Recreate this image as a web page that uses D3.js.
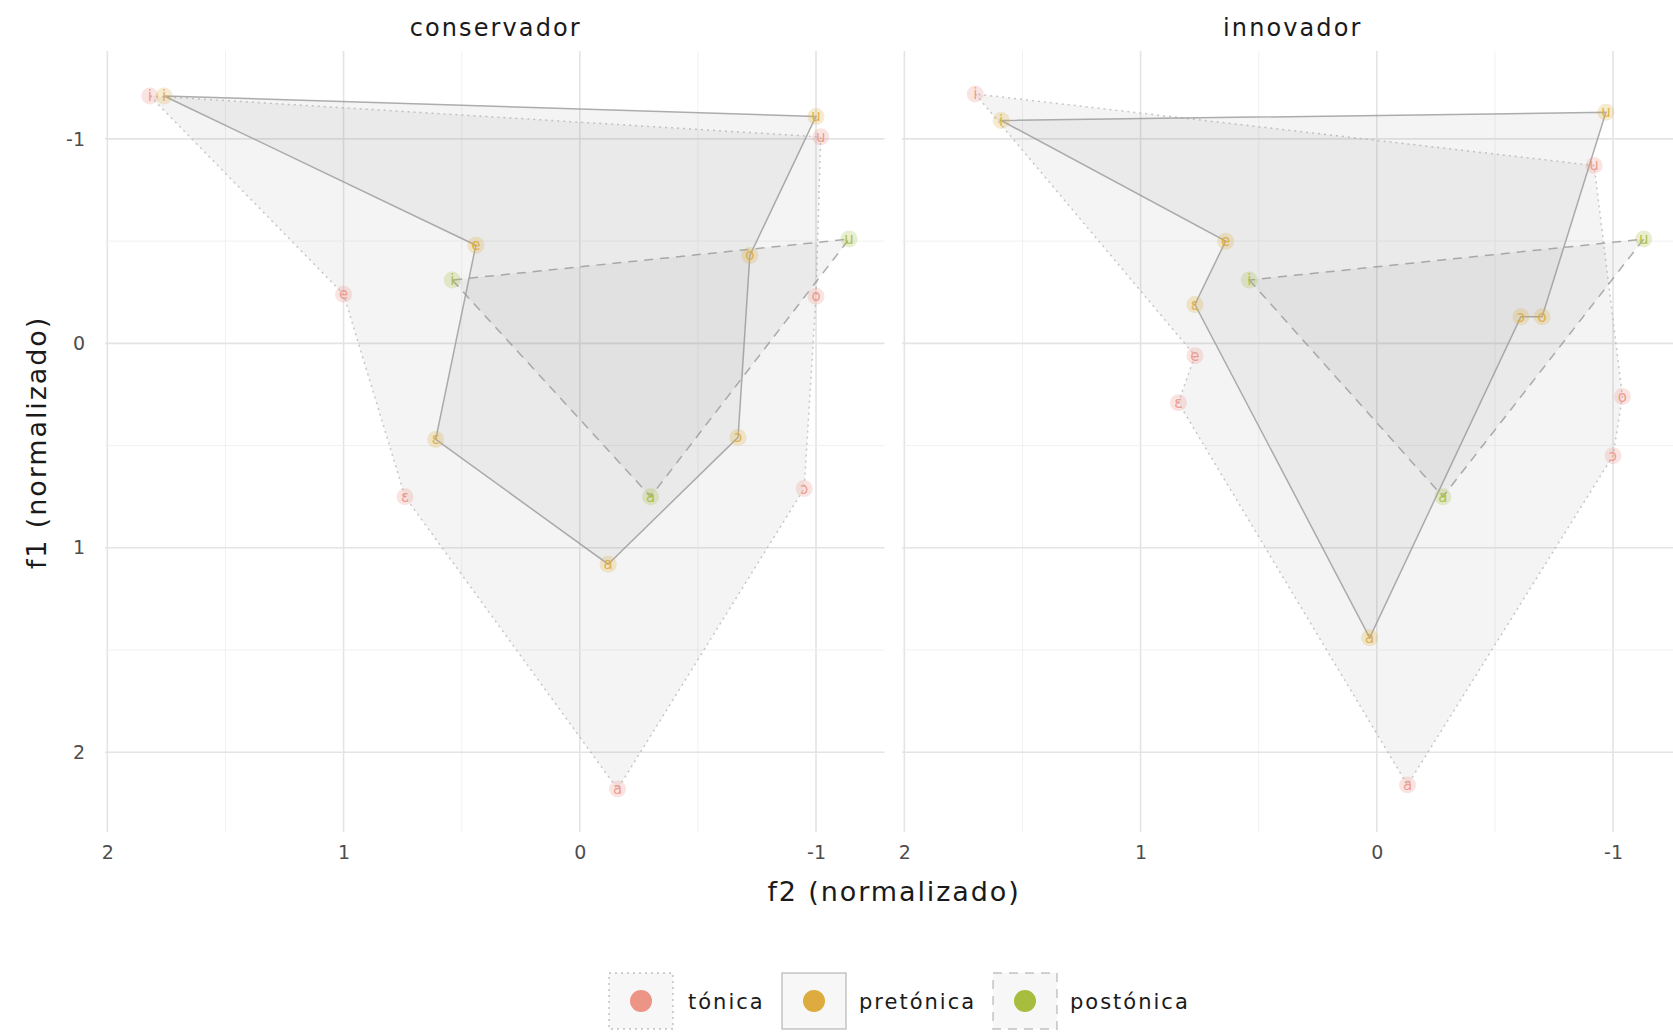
<!DOCTYPE html>
<html>
<head>
<meta charset="utf-8">
<script src="https://cdn.jsdelivr.net/npm/d3@7"></script>
<style>
  html, body { margin: 0; padding: 0; background: #ffffff; }
  svg { display: block; font-family: "DejaVu Sans", Verdana, sans-serif; }
</style>
</head>
<body>
<svg id="chart" width="1673" height="1033"></svg>
<script>
// Vowel space by stress position, two speaker groups (normalised formants)
const panels = ["conservador", "innovador"];
const series = ["tónica", "pretónica", "postónica"];
const seriesColors = ["#EC9486", "#DDAB3E", "#A6BD3E"];
const seriesDash = ["2 4", null, "9 7"];

const vowels7 = ["i", "e", "ɛ", "a", "ɔ", "o", "u"];
const vowels3 = ["i", "a", "u"];

// conservador
const conservadorTonicaF2 = [1.82, 1.00, 0.74, -0.16, -0.95, -1.00, -1.02];
const conservadorTonicaF1 = [-1.21, -0.24, 0.75, 2.18, 0.71, -0.23, -1.01];
const conservadorPretonicaF2 = [1.76, 0.44, 0.61, -0.12, -0.67, -0.72, -1.00];
const conservadorPretonicaF1 = [-1.21, -0.48, 0.47, 1.08, 0.46, -0.43, -1.11];
const conservadorPostonicaF2 = [0.54, -0.30, -1.14];
const conservadorPostonicaF1 = [-0.31, 0.75, -0.51];

// innovador
const innovadorTonicaF2 = [1.70, 0.77, 0.84, -0.13, -1.00, -1.04, -0.92];
const innovadorTonicaF1 = [-1.22, 0.06, 0.29, 2.16, 0.55, 0.26, -0.87];
const innovadorPretonicaF2 = [1.59, 0.64, 0.77, 0.03, -0.61, -0.70, -0.97];
const innovadorPretonicaF1 = [-1.09, -0.50, -0.19, 1.44, -0.13, -0.13, -1.13];
const innovadorPostonicaF2 = [0.54, -0.28, -1.13];
const innovadorPostonicaF1 = [-0.31, 0.75, -0.51];

const xTickValues = [2, 1, 0, -1];
const yTickValues = [-1, 0, 1, 2];
const xGridValues = [2, 1.5, 1, 0.5, 0, -0.5, -1];
const yGridValues = [-1, -0.5, 0, 0.5, 1, 1.5, 2];

function build(names, f2, f1) {
  return names.map((v, i) => ({ vowel: v, f2: f2[i], f1: f1[i] }));
}
const panelData = {
  conservador: [
    build(vowels7, conservadorTonicaF2, conservadorTonicaF1),
    build(vowels7, conservadorPretonicaF2, conservadorPretonicaF1),
    build(vowels3, conservadorPostonicaF2, conservadorPostonicaF1)
  ],
  innovador: [
    build(vowels7, innovadorTonicaF2, innovadorTonicaF1),
    build(vowels7, innovadorPretonicaF2, innovadorPretonicaF1),
    build(vowels3, innovadorPostonicaF2, innovadorPostonicaF1)
  ]
};

const svg = d3.select("#chart");
const panelTop = 51, panelBottom = 832;
const panelRanges = [[105, 884.5], [902, 1681.5]];
const xDomain = [2.01, -1.29];
const y = d3.scaleLinear().domain([-1.43, 2.39]).range([panelTop, panelBottom]);
const tickFmt = d => String(d);

panels.forEach((name, pi) => {
  const x = d3.scaleLinear().domain(xDomain).range(panelRanges[pi]);
  const g = svg.append("g");
  const [x0, x1] = panelRanges[pi];

  // grid
  g.selectAll(".vgrid").data(xGridValues).join("line")
    .attr("x1", d => x(d)).attr("x2", d => x(d))
    .attr("y1", panelTop).attr("y2", panelBottom)
    .attr("stroke", d => Number.isInteger(d) ? "#E4E4E4" : "#EFEFEF")
    .attr("stroke-width", d => Number.isInteger(d) ? 1.6 : 0.9);
  g.selectAll(".hgrid").data(yGridValues).join("line")
    .attr("x1", x0).attr("x2", x1)
    .attr("y1", d => y(d)).attr("y2", d => y(d))
    .attr("stroke", d => Number.isInteger(d) ? "#E4E4E4" : "#EFEFEF")
    .attr("stroke-width", d => Number.isInteger(d) ? 1.6 : 0.9);

  // strip title
  svg.append("text")
    .attr("x", (x0 + x1) / 2 + 1)
    .attr("y", 36)
    .attr("text-anchor", "middle")
    .attr("font-size", 24)
    .attr("letter-spacing", 2.1)
    .attr("fill", "#1a1a1a")
    .text(name);

  // vowel polygons
  const line = d3.line().x(d => x(d.f2)).y(d => y(d.f1)).curve(d3.curveLinearClosed);
  panelData[name].forEach((pts, si) => {
    g.append("path")
      .attr("d", line(pts))
      .attr("fill", "#989898")
      .attr("fill-opacity", 0.1)
      .attr("stroke", si === 0 ? "#B0B0B0" : "#999999")
      .attr("stroke-opacity", si === 0 ? 0.7 : 0.8)
      .attr("stroke-width", 1.5)
      .attr("stroke-dasharray", seriesDash[si]);
  });

  // vowel markers
  panelData[name].forEach((pts, si) => {
    const mg = g.append("g");
    mg.selectAll("circle").data(pts).join("circle")
      .attr("cx", d => x(d.f2)).attr("cy", d => y(d.f1))
      .attr("r", 8.5)
      .attr("fill", seriesColors[si])
      .attr("fill-opacity", 0.25);
    mg.selectAll("text").data(pts).join("text")
      .attr("x", d => x(d.f2)).attr("y", d => y(d.f1) + 5)
      .attr("text-anchor", "middle")
      .attr("font-size", 15)
      .attr("fill", seriesColors[si])
      .attr("fill-opacity", 0.9)
      .text(d => d.vowel);
  });

  // x tick labels
  const xAxis = d3.axisBottom(x).tickValues(xTickValues).tickSize(0).tickPadding(0)
    .tickFormat(tickFmt);
  const ax = svg.append("g").attr("transform", `translate(0,${panelBottom + 10})`).call(xAxis);
  ax.select(".domain").remove();
  ax.selectAll("text").attr("font-size", 19).attr("fill", "#4d4d4d")
    .attr("font-family", "'DejaVu Sans', Verdana, sans-serif").attr("dy", "0.9em");

  if (pi === 0) {
    const yAxis = d3.axisLeft(y).tickValues(yTickValues).tickSize(0).tickPadding(0)
      .tickFormat(tickFmt);
    const ay = svg.append("g").attr("transform", `translate(${x0 - 20},0)`).call(yAxis);
    ay.select(".domain").remove();
    ay.selectAll("text").attr("font-size", 19).attr("fill", "#4d4d4d")
      .attr("font-family", "'DejaVu Sans', Verdana, sans-serif");
  }
});

// axis titles
svg.append("text")
  .attr("x", 894).attr("y", 901)
  .attr("text-anchor", "middle").attr("font-size", 27)
  .attr("letter-spacing", 1.9).attr("fill", "#1a1a1a")
  .text("f2 (normalizado)");
svg.append("text")
  .attr("transform", `translate(46,${(panelTop + panelBottom) / 2 + 1}) rotate(-90)`)
  .attr("text-anchor", "middle").attr("font-size", 27)
  .attr("letter-spacing", 1.9).attr("fill", "#1a1a1a")
  .text("f1 (normalizado)");

// legend
const legendKeys = [
  { x: 609, tx: 688 },
  { x: 782, tx: 859 },
  { x: 993, tx: 1070 }
];
const legend = svg.append("g");
series.forEach((s, i) => {
  const k = legendKeys[i];
  legend.append("rect")
    .attr("x", k.x).attr("y", 973).attr("width", 64).attr("height", 56)
    .attr("fill", "#989898").attr("fill-opacity", 0.08)
    .attr("stroke", "#9a9a9a").attr("stroke-opacity", 0.6)
    .attr("stroke-width", 1.4)
    .attr("stroke-dasharray", seriesDash[i]);
  legend.append("circle")
    .attr("cx", k.x + 32).attr("cy", 1001).attr("r", 11)
    .attr("fill", seriesColors[i]);
  legend.append("text")
    .attr("x", k.tx).attr("y", 1009)
    .attr("font-size", 21).attr("letter-spacing", 2.0).attr("fill", "#1a1a1a")
    .text(s);
});
</script>
</body>
</html>
